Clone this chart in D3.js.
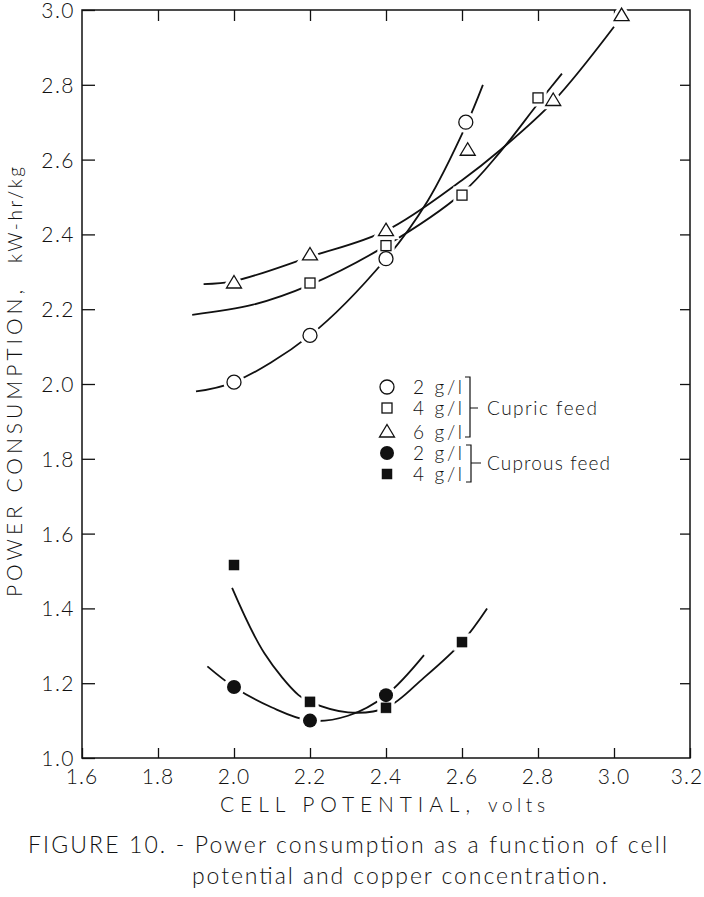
<!DOCTYPE html>
<html>
<head>
<meta charset="utf-8">
<script src="https://cdn.jsdelivr.net/npm/d3@7"></script>
<style>
  html, body { margin: 0; padding: 0; background: #fff; }
  svg { display: block; }
  text { font-family: Lato, "Open Sans", "DejaVu Sans", sans-serif; font-weight: 300; fill: #111; }
</style>
</head>
<body>
<svg id="chart" width="704" height="897"></svg>
<script>
// ---- data ----
const xTicks = [1.6, 1.8, 2.0, 2.2, 2.4, 2.6, 2.8, 3.0, 3.2];
const yTicks = [1.0, 1.2, 1.4, 1.6, 1.8, 2.0, 2.2, 2.4, 2.6, 2.8, 3.0];

// measured points  [cell potential, power consumption]
const cupric2 = [[2.0, 2.005], [2.2, 2.13], [2.4, 2.335], [2.61, 2.70]];
const cupric4 = [[2.2, 2.27], [2.4, 2.37], [2.6, 2.505], [2.8, 2.765]];
const cupric6 = [[2.0, 2.27], [2.2, 2.345], [2.4, 2.41], [2.615, 2.625], [2.84, 2.758], [3.02, 2.985]];
const cuprous2 = [[2.0, 1.19], [2.2, 1.10], [2.4, 1.168]];
const cuprous4 = [[2.0, 1.516], [2.2, 1.15], [2.4, 1.134], [2.6, 1.31]];

// hand-drawn fitted curves
const fitCupric2 = [[1.90, 1.98], [2.0, 2.005], [2.2, 2.13], [2.4, 2.335], [2.51, 2.49], [2.61, 2.69], [2.655, 2.80]];
const fitCupric4 = [[1.89, 2.185], [2.05, 2.212], [2.2, 2.265], [2.4, 2.37], [2.6, 2.51], [2.7, 2.62], [2.8, 2.75], [2.863, 2.83]];
const fitCupric6 = [[1.92, 2.267], [2.0, 2.275], [2.2, 2.34], [2.4, 2.41], [2.6, 2.545], [2.7, 2.625], [2.84, 2.755], [3.0, 2.955]];
const fitCuprous2 = [[1.93, 1.245], [2.0, 1.19], [2.1, 1.135], [2.2, 1.10], [2.3, 1.113], [2.4, 1.168], [2.5, 1.275]];
const fitCuprous4 = [[1.995, 1.455], [2.08, 1.28], [2.17, 1.168], [2.2, 1.15], [2.3, 1.122], [2.4, 1.134], [2.5, 1.215], [2.6, 1.31], [2.666, 1.40]];

const legendLabels = ["2  g/l", "4  g/l", "6  g/l", "2  g/l", "4  g/l"];
const groupLabels = ["Cupric feed", "Cuprous feed"];

// ---- drawing ----
const svg = d3.select("#chart");
const L = 82, R = 690, T = 10, B = 758;
const x = d3.scaleLinear().domain([1.6, 3.2]).range([L, R]);
const y = d3.scaleLinear().domain([1.0, 3.0]).range([B, T]);
const ink = "#111";

// frame
svg.append("rect").attr("x", L).attr("y", T).attr("width", R - L).attr("height", B - T)
  .attr("fill", "none").attr("stroke", ink).attr("stroke-width", 1.5);

// axes with inward ticks, labels only bottom/left
const fmt = d3.format(".1f");
const gB = svg.append("g").attr("transform", `translate(0,${B})`)
  .call(d3.axisTop(x).tickValues(xTicks).tickSize(10).tickFormat(""));
const gT = svg.append("g").attr("transform", `translate(0,${T})`)
  .call(d3.axisBottom(x).tickValues(xTicks.slice(1, -1)).tickSize(11).tickFormat(""));
const gLft = svg.append("g").attr("transform", `translate(${L},0)`)
  .call(d3.axisRight(y).tickValues(yTicks).tickSize(13).tickFormat(""));
const gRt = svg.append("g").attr("transform", `translate(${R},0)`)
  .call(d3.axisLeft(y).tickValues(yTicks.slice(1, -1)).tickSize(10).tickFormat(""));
[gB, gT, gLft, gRt].forEach(g => {
  g.select(".domain").remove();
  g.selectAll("line").attr("stroke", ink).attr("stroke-width", 1.3);
});

// tick labels
svg.append("g").selectAll("text").data(xTicks).join("text")
  .attr("x", d => x(d)).attr("y", 784).attr("text-anchor", "middle")
  .attr("dx", (d, i) => i === xTicks.length - 1 ? -3 : 0)
  .attr("font-size", 21).attr("letter-spacing", 1).text(d => fmt(d));
svg.append("g").selectAll("text").data(yTicks).join("text")
  .attr("x", 75).attr("y", d => y(d) + 8).attr("text-anchor", "end")
  .attr("font-size", 21).attr("letter-spacing", 1.5).text(d => fmt(d));

// axis titles
svg.append("text").attr("x", 220).attr("y", 812).attr("font-size", 21)
  .attr("textLength", 250).attr("lengthAdjust", "spacing").text("CELL POTENTIAL,");
svg.append("text").attr("x", 488).attr("y", 812).attr("font-size", 19)
  .attr("textLength", 57).attr("lengthAdjust", "spacing").text("volts");
svg.append("text").attr("transform", "translate(22,597) rotate(-90)").attr("font-size", 21)
  .attr("textLength", 307).attr("lengthAdjust", "spacing").text("POWER CONSUMPTION,");
svg.append("text").attr("transform", "translate(22,263) rotate(-90)").attr("font-size", 19)
  .attr("textLength", 96).attr("lengthAdjust", "spacing").text("kW-hr/kg");

// caption
svg.append("text").attr("x", 28).attr("y", 853).attr("font-size", 23).attr("font-weight", 400)
  .attr("textLength", 639).attr("lengthAdjust", "spacing")
  .text("FIGURE 10. - Power consumption as a function of cell");
svg.append("text").attr("x", 192).attr("y", 884).attr("font-size", 23).attr("font-weight", 400)
  .attr("textLength", 415).attr("lengthAdjust", "spacing")
  .text("potential and copper concentration.");

// curves
const line = d3.line().x(d => x(d[0])).y(d => y(d[1])).curve(d3.curveCatmullRom.alpha(0.5));
[fitCupric2, fitCupric4, fitCupric6, fitCuprous2, fitCuprous4].forEach(f => {
  svg.append("path").attr("d", line(f)).attr("fill", "none").attr("stroke", ink).attr("stroke-width", 1.8);
});

// marker shapes
function marker(g, type, cx, cy, halo) {
  const pad = halo ? 3 : 0;
  const sw = 1.3;
  const fillC = halo ? "#fff" : (type === "fcircle" || type === "fsquare" ? ink : "#fff");
  const strokeC = halo ? "#fff" : ink;
  const swid = halo ? sw + 2 * pad : sw;
  if (type === "circle" || type === "fcircle") {
    g.append("circle").attr("cx", cx).attr("cy", cy).attr("r", 7)
      .attr("fill", fillC).attr("stroke", strokeC).attr("stroke-width", type === "fcircle" && !halo ? 0 : swid);
  } else if (type === "square" || type === "fsquare") {
    g.append("rect").attr("x", cx - 5).attr("y", cy - 5).attr("width", 10).attr("height", 10)
      .attr("fill", fillC).attr("stroke", strokeC).attr("stroke-width", type === "fsquare" && !halo ? 0.5 : swid);
  } else if (type === "triangle") {
    const h = 12.5, w = 15;
    g.append("path").attr("d", `M${cx},${cy - h * 0.6}L${cx + w / 2},${cy + h * 0.4}L${cx - w / 2},${cy + h * 0.4}Z`)
      .attr("fill", fillC).attr("stroke", strokeC).attr("stroke-width", swid).attr("stroke-linejoin", "miter");
  }
}
const seriesList = [
  { data: cupric2, type: "circle" },
  { data: cupric4, type: "square" },
  { data: cupric6, type: "triangle" },
  { data: cuprous2, type: "fcircle" },
  { data: cuprous4, type: "fsquare" }
];
const gm = svg.append("g");
seriesList.forEach(s => s.data.forEach(d => marker(gm, s.type, x(d[0]), y(d[1]), true)));
seriesList.forEach(s => s.data.forEach(d => marker(gm, s.type, x(d[0]), y(d[1]), false)));

// legend
const lg = svg.append("g");
const rowY = [387, 408, 432, 453, 474];
seriesList.forEach((s, i) => {
  marker(lg, s.type, 387, rowY[i], false);
  lg.append("text").attr("x", 413).attr("y", rowY[i] + 7).attr("font-size", 19)
    .attr("textLength", 49).attr("lengthAdjust", "spacing").text(legendLabels[i]);
});
lg.append("path").attr("d", "M465,377H470V437H465M470,408H478").attr("fill", "none").attr("stroke", ink).attr("stroke-width", 1.2);
lg.append("path").attr("d", "M466,445H471V482H466M471,463H481").attr("fill", "none").attr("stroke", ink).attr("stroke-width", 1.2);
lg.append("text").attr("x", 487).attr("y", 415).attr("font-size", 19)
  .attr("textLength", 110).attr("lengthAdjust", "spacing").text(groupLabels[0]);
lg.append("text").attr("x", 487).attr("y", 470).attr("font-size", 19)
  .attr("textLength", 123).attr("lengthAdjust", "spacing").text(groupLabels[1]);
</script>
</body>
</html>
